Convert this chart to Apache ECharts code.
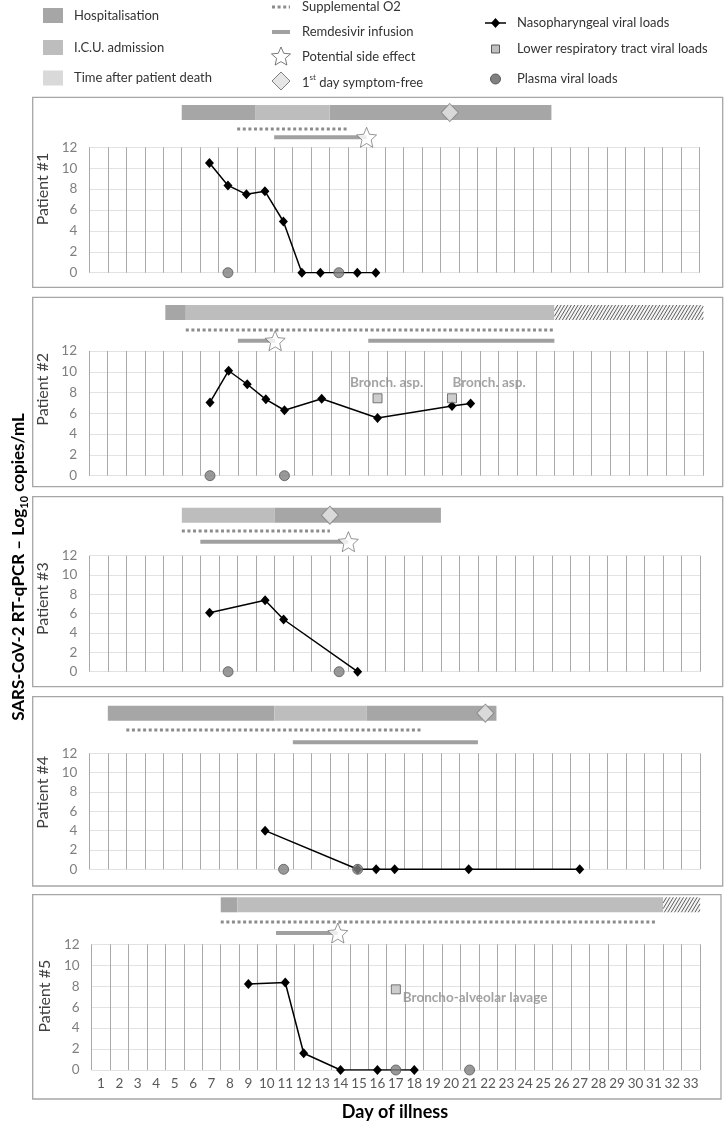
<!DOCTYPE html>
<html><head><meta charset="utf-8">
<script src="https://cdn.jsdelivr.net/npm/echarts@6/dist/echarts.min.js"></script>
<style>html,body{margin:0;padding:0;background:#fff}#c{width:725px;height:1125px}</style>
</head><body><div id="c"></div>
<script>
// ---------- DATA ----------
const days = ['1','2','3','4','5','6','7','8','9','10','11','12','13','14','15','16','17','18','19','20','21','22','23','24','25','26','27','28','29','30','31','32','33'];
const yTicks = [0, 2, 4, 6, 8, 10, 12];
const patients = ['Patient #1','Patient #2','Patient #3','Patient #4','Patient #5'];

// Nasopharyngeal viral loads [day, log10 copies/mL] per patient
const npP1 = [[7,10.5],[8,8.35],[9,7.5],[10,7.8],[11,4.9],[12,0],[13,0],[15,0],[16,0]];
const npP2 = [[7,7.05],[8,10.1],[9,8.8],[10,7.35],[11,6.3],[13,7.4],[16,5.55],[20,6.7],[21,6.95]];
const npP3 = [[7,6.1],[10,7.4],[11,5.4],[15,0]];
const npP4 = [[10,4.0],[15,0],[16,0],[17,0],[21,0],[27,0]];
const npP5 = [[9,8.2],[11,8.35],[12,1.6],[14,0],[16,0],[18,0]];
// Lower respiratory tract viral loads
const lrtP2 = [[16,7.45],[20,7.45]];
const lrtP5 = [[17,7.7]];
const lrtNames = [[], ['Bronch. asp.','Bronch. asp.'], [], [], ['Broncho-alveolar lavage']];
// Plasma viral loads
const plP1 = [[8,0],[14,0]];
const plP2 = [[7,0],[11,0]];
const plP3 = [[8,0],[14,0]];
const plP4 = [[11,0],[15,0]];
const plP5 = [[17,0],[21,0]];

// Timeline intervals [patient index, start, end] in day-boundary units (0 = start of day 1)
const hospitalisation = [[0,5,9],[0,13,25],[1,4.1,5.2],[2,10,19],[3,1,10],[3,15,22],[4,7,7.9]];
const icuAdmission   = [[0,9,13],[1,5.2,25],[2,5,10],[3,10,15],[4,7.9,31]];
const afterDeath     = [[1,25,33],[4,31,33]];
const supplementalO2 = [[0,8,14],[1,5.2,25],[2,5,13],[3,2,18],[4,7,30.6]];
const remdesivir     = [[0,10,15],[1,8,10],[1,15,25],[2,6,14],[3,11,21],[4,10,13.35]];
const sideEffect     = [[0,15],[1,10],[2,14],[4,13.35]];
const symptomFree    = [[0,19.5],[2,13],[3,21.4]];

// ---------- LAYOUT (pixels) ----------
const layout = [
  {barTop:105,  top:147.3, bottom:272.7, left:89.3, right:699.3, boxTop:97.3, boxBottom:287.3, o2:24,   rem:32.3, nameShift:21},
  {barTop:305,  top:351,   bottom:475.7, left:89,   right:703.3, boxTop:297.3,boxBottom:486.7, o2:25,   rem:35.7, nameShift:24},
  {barTop:507.7,top:555.7, bottom:671.7, left:89.3, right:700,   boxTop:496.7,boxBottom:686.7, o2:23.3, rem:34,   nameShift:15},
  {barTop:705.7,top:753.3, bottom:869.3, left:89.3, right:700,   boxTop:696.7,boxBottom:886,   o2:24.3, rem:36.6, nameShift:19},
  {barTop:897.3,top:944.3, bottom:1070,  left:91.7, right:700,   boxTop:894.7,boxBottom:1099,  o2:24.7, rem:35.7, nameShift:11}
];
const lrtLabelOffsets = [[], [[9,1],[37,1]], [], [], [[-3,8]]];
const BAR_H = 15;
const FONT = 'Lato';
const C_HOSP = '#a6a6a6', C_ICU = '#bdbdbd', C_DEATH = '#d9d9d9';

const npAll = [npP1,npP2,npP3,npP4,npP5];
const lrtAll = [[], lrtP2, [], [], lrtP5];
const plAll = [plP1,plP2,plP3,plP4,plP5];

// star path
function starPath(){
  let s = 'path://';
  for (let i=0;i<10;i++){
    const r = i%2===0 ? 10 : 4.6;
    const a = -Math.PI/2 + i*Math.PI/5;
    s += (i===0?'M':'L') + (10 + r*Math.cos(a)).toFixed(3) + ',' + (10 + r*Math.sin(a)).toFixed(3);
  }
  return s + 'Z';
}
const STAR = starPath();
function starPoints(cx, cy, R){
  const pts=[];
  for (let i=0;i<10;i++){
    const r = i%2===0 ? R : R*0.46;
    const a = -Math.PI/2 + i*Math.PI/5;
    pts.push([cx + r*Math.cos(a), cy + r*Math.sin(a)]);
  }
  return pts;
}

function barRender(color){
  return function(params, api){
    const a = api.coord([api.value(0), 0]), b = api.coord([api.value(1), BAR_H]);
    return {type:'rect', shape:{x:a[0], y:a[1], width:b[0]-a[0], height:b[1]-a[1]}, style:{fill:color}};
  };
}
function hatchRender(params, api){
  const a = api.coord([api.value(0), 0]), b = api.coord([api.value(1), BAR_H]);
  const x0=a[0], x1=b[0], y0=a[1], y1=b[1], H=y1-y0, dx=H*0.6, step=3.4;
  const children=[{type:'rect', shape:{x:x0,y:y0,width:x1-x0,height:H}, style:{fill:'#f4f4f4'}}];
  for (let x=x0-dx; x<x1; x+=step){
    const t0=Math.max(0,(x0-x)/dx), t1=Math.min(1,(x1-x)/dx);
    if (t1<=t0) continue;
    children.push({type:'line', shape:{x1:x+t0*dx, y1:y1-t0*H, x2:x+t1*dx, y2:y1-t1*H}, style:{stroke:'#4d4d4d', lineWidth:0.9}});
  }
  return {type:'group', children};
}
function lineRender(row, style){
  return function(params, api){
    const a = api.coord([api.value(0), row]), b = api.coord([api.value(1), row]);
    return {type:'line', shape:{x1:a[0], y1:a[1], x2:b[0], y2:b[1]}, style:Object.assign({}, style)};
  };
}
function pick(arr, p){ return arr.filter(d=>d[0]===p).map(d=>[d[1], d[2], 0]); }

const grid=[], xAxis=[], yAxis=[], series=[], graphic=[];
const O2_STYLE = {stroke:'#8c8c8c', lineWidth:3, lineDash:[3,2.6]};
const REM_STYLE = {stroke:'#a0a0a0', lineWidth:4};

layout.forEach((L, p)=>{
  const gi = 2*p, pi = 2*p+1;
  grid.push({left:L.left, width:L.right-L.left, top:L.barTop, height:40});
  grid.push({left:L.left, width:L.right-L.left, top:L.top, height:L.bottom-L.top});
  xAxis.push({gridIndex:gi, type:'value', min:0, max:33, show:false});
  yAxis.push({gridIndex:gi, type:'value', min:0, max:40, inverse:true, show:false});
  xAxis.push({gridIndex:pi, type:'category', data:days, boundaryGap:true,
    axisLine:{show:false}, axisTick:{show:false},
    axisLabel:{show:p===4, color:'#595959', fontSize:13.5, fontFamily:FONT, margin:7, interval:0},
    splitLine:{show:true, lineStyle:{color:'#a9a9a9', width:1}}});
  yAxis.push({gridIndex:pi, type:'value', min:yTicks[0], max:yTicks[yTicks.length-1], interval:2,
    name:patients[p], nameLocation:'middle', nameGap:25,
    nameTextStyle:{color:'#404040', fontSize:16, fontFamily:FONT, padding:[0,0,0,2*L.nameShift]},
    axisLine:{show:false}, axisTick:{show:false},
    axisLabel:{color:'#7f7f7f', fontSize:13.5, fontFamily:FONT, margin:12},
    splitLine:{lineStyle:{color:'#e2e2e2', width:1}}});

  const base = {xAxisIndex:gi, yAxisIndex:gi, silent:true, encode:{x:[0,1], y:2}};
  series.push(Object.assign({type:'custom', renderItem:barRender(C_HOSP), data:pick(hospitalisation,p)}, base));
  series.push(Object.assign({type:'custom', renderItem:barRender(C_ICU), data:pick(icuAdmission,p)}, base));
  series.push(Object.assign({type:'custom', renderItem:hatchRender, data:pick(afterDeath,p)}, base));
  series.push(Object.assign({type:'custom', renderItem:lineRender(L.o2, O2_STYLE), data:pick(supplementalO2,p)}, base));
  series.push(Object.assign({type:'custom', renderItem:lineRender(L.rem, REM_STYLE), data:pick(remdesivir,p)}, base));
  series.push({type:'scatter', xAxisIndex:gi, yAxisIndex:gi, silent:true, z:5,
    symbol:STAR, symbolSize:20, itemStyle:{color:'#fff', borderColor:'#595959', borderWidth:0.8},
    data:sideEffect.filter(d=>d[0]===p).map(d=>[d[1], L.rem])});
  series.push({type:'scatter', xAxisIndex:gi, yAxisIndex:gi, silent:true, z:5,
    symbol:'diamond', symbolSize:[17,18], itemStyle:{color:'#e6e6e6', borderColor:'#7f7f7f', borderWidth:1},
    data:symptomFree.filter(d=>d[0]===p).map(d=>[d[1], BAR_H/2])});

  series.push({type:'line', xAxisIndex:pi, yAxisIndex:pi, silent:true, z:3,
    data:npAll[p].map(d=>[String(d[0]), d[1]]),
    symbol:'diamond', symbolSize:[9,10], showAllSymbol:true,
    lineStyle:{color:'#000', width:1.5}, itemStyle:{color:'#000'}});
  series.push({type:'scatter', xAxisIndex:pi, yAxisIndex:pi, silent:true, z:4,
    data:plAll[p].map(d=>[String(d[0]), d[1]]),
    symbol:'circle', symbolSize:10, itemStyle:{color:'#808080', borderColor:'#595959', borderWidth:1}});
  series.push({type:'scatter', xAxisIndex:pi, yAxisIndex:pi, silent:true, z:4,
    data:lrtAll[p].map((d,i)=>({value:[String(d[0]), d[1]],
      label:{show:true, formatter:lrtNames[p][i], position: p===4?'right':'top', offset:lrtLabelOffsets[p][i]}})),
    symbol:'rect', symbolSize:9, itemStyle:{color:'#c0c0c0', borderColor:'#595959', borderWidth:1},
    label:{color:'#8c8c8c', fontWeight:'bold', fontSize:13.5, fontFamily:FONT}});

  graphic.push({type:'rect', z:-1, shape:{x:32.7, y:L.boxTop, width:p===4?688.3:690, height:L.boxBottom-L.boxTop},
    style:{fill:'none', stroke:'#a6a6a6', lineWidth:1.3}});
});

// ---------- legend ----------
const LT = {fill:'#333', font:'13px '+FONT, verticalAlign:'middle', align:'left'};
function ltext(x,y,t){ return {type:'text', x, y, style:Object.assign({text:t}, LT)}; }
graphic.push({type:'rect', shape:{x:43,y:8,width:20,height:15}, style:{fill:C_HOSP}});
graphic.push(ltext(74,15.5,'Hospitalisation'));
graphic.push({type:'rect', shape:{x:43,y:40,width:20,height:15}, style:{fill:C_ICU}});
graphic.push(ltext(74,47.5,'I.C.U. admission'));
graphic.push({type:'rect', shape:{x:43,y:70.5,width:20,height:15}, style:{fill:C_DEATH}});
graphic.push(ltext(74,78,'Time after patient death'));

graphic.push({type:'line', shape:{x1:272,y1:7,x2:290,y2:7}, style:{stroke:'#8c8c8c', lineWidth:3, lineDash:[3,2.6]}});
graphic.push(ltext(302,7,'Supplemental O2'));
graphic.push({type:'line', shape:{x1:272,y1:32,x2:290,y2:32}, style:{stroke:'#a0a0a0', lineWidth:4}});
graphic.push(ltext(302,32,'Remdesivir infusion'));
graphic.push({type:'polygon', shape:{points:starPoints(281,57,10)}, style:{fill:'#fff', stroke:'#595959', lineWidth:0.8}});
graphic.push(ltext(302,57,'Potential side effect'));
graphic.push({type:'polygon', shape:{points:[[281,72],[290,81],[281,90],[272,81]]}, style:{fill:'#e6e6e6', stroke:'#7f7f7f', lineWidth:1}});
graphic.push({type:'text', x:302, y:81, style:{text:'{n|1}{s|st}{n| day symptom-free}', verticalAlign:'middle', align:'left',
  rich:{n:{fill:'#333', font:'13px '+FONT, lineHeight:16, verticalAlign:'bottom'}, s:{fill:'#333', font:'8px '+FONT, lineHeight:16, verticalAlign:'top'}}}});

graphic.push({type:'line', shape:{x1:485,y1:23,x2:506,y2:23}, style:{stroke:'#000', lineWidth:1.5}});
graphic.push({type:'polygon', shape:{points:[[495.5,18],[500,23],[495.5,28],[491,23]]}, style:{fill:'#000'}});
graphic.push(ltext(517,23,'Nasopharyngeal viral loads'));
graphic.push({type:'rect', shape:{x:491.5,y:45,width:8,height:8}, style:{fill:'#c0c0c0', stroke:'#595959', lineWidth:1}});
graphic.push(ltext(517,49,'Lower respiratory tract viral loads'));
graphic.push({type:'circle', shape:{cx:495.5, cy:79, r:5}, style:{fill:'#808080', stroke:'#595959', lineWidth:1}});
graphic.push(ltext(517,79,'Plasma viral loads'));

// axis titles
graphic.push({type:'text', x:20, y:567, rotation:Math.PI/2, style:{
  text:'{b|SARS-CoV-2 RT-qPCR – Log}{s|10}{b| copies/mL}', align:'center', verticalAlign:'middle',
  rich:{b:{fill:'#000', font:'bold 17px '+FONT, lineHeight:20, verticalAlign:'top'}, s:{fill:'#000', font:'bold 11px '+FONT, lineHeight:20, verticalAlign:'bottom'}}}});
graphic.push({type:'text', x:395, y:1112, style:{text:'Day of illness', font:'bold 18px '+FONT, fill:'#000', align:'center', verticalAlign:'middle'}});

const chart = echarts.init(document.getElementById('c'), null, {renderer:'canvas'});
chart.setOption({animation:false, backgroundColor:'#fff', textStyle:{fontFamily:FONT}, grid, xAxis, yAxis, series, graphic});
</script></body></html>
